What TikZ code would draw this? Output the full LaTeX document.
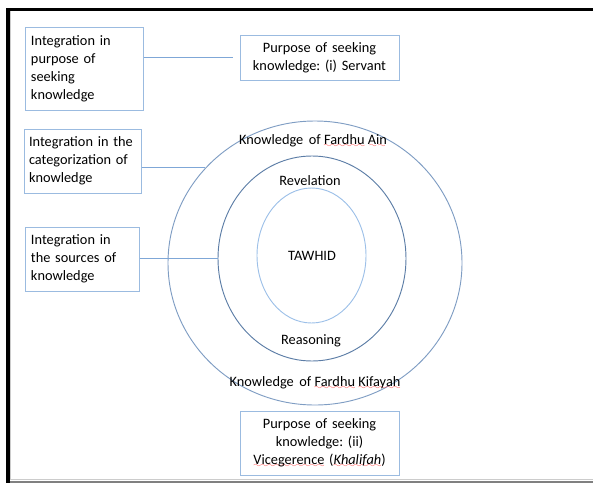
\documentclass[tikz,border=0pt]{standalone}
\usepackage{fontspec}
\setmainfont{Carlito}
\usetikzlibrary{shapes.geometric}
\frenchspacing
\newlength\pxu \setlength\pxu{0.75pt}
\definecolor{boxblue}{HTML}{9BBBE0}
\definecolor{linkblue}{HTML}{7FA7D7}
\definecolor{ringout}{HTML}{7F9DC3}
\definecolor{ringmid}{HTML}{5C7DA6}
\definecolor{ringin}{HTML}{9DC0E8}
\font\wavefont=lasy6
\newsavebox\spellbox
\newcommand{\spell}[1]{\leavevmode\sbox\spellbox{#1}\rlap{\textcolor{red!75}{\lower2.2pt\hbox to\wd\spellbox{\xleaders\hbox{\wavefont\char58}\hfil}}}\usebox\spellbox}
\tikzset{
  sidebox/.style={draw=boxblue, line width=0.75pt, inner xsep=6\pxu, inner ysep=3\pxu, align=left},
  goalbox/.style={sidebox, align=center},
  ring/.style={ellipse, draw, line width=0.7pt, inner sep=0pt},
  link/.style={draw=linkblue, line width=0.75pt}
}

\begin{document}
\begin{tikzpicture}[x=\pxu,y=-\pxu,font=\fontsize{10.75pt}{13.5pt}\selectfont]
	\useasboundingbox (0,0) rectangle (593,483);
	% frame
	\draw[line width=3\pxu] (6,9.5) -- (593,9.5);
	\draw[line width=4\pxu] (8,8) -- (8,483);
	\draw[black!20, line width=1\pxu] (10.5,11) -- (10.5,479);
	\draw[black!20, line width=1\pxu] (10,479.5) -- (593,479.5);
	\draw[black!50, line width=2.5\pxu] (10,482) -- (593,482);
	% rings
	\node[ring, draw=ringout, minimum width=294\pxu, minimum height=284\pxu] (outer) at (315,263) {};
	\node[ring, draw=ringmid, minimum width=188\pxu, minimum height=205\pxu] (mid) at (312,258.5) {};
	\node[ring, draw=ringin, minimum width=109\pxu, minimum height=135\pxu] (inner) at (311.5,255.5) {};
		\node (ain) at (313,141) {Knowledge\, of \spell{Fardhu} \spell{Ain}};
		\node (rev) at (310,181) {Revelation};
		\node (tawhid) at (312,256) {TAWHID};
		\node (reas) at (311,341) {Reasoning};
		\node (kif) at (315,383) {Knowledge\, of \spell{Fardhu} \spell{Kifayah}};
	% boxes
	\node[sidebox, text width=106\pxu, minimum height=83\pxu] (purpose) at (84,68.5) {Integration in\\purpose of\\seeking\\knowledge};
	\node[sidebox, text width=107\pxu, inner xsep=5\pxu, minimum height=64\pxu] (categ) at (82.5,161) {Integration in the\\categorization of\\knowledge};
	\node[sidebox, text width=102\pxu, minimum height=64\pxu] (sources) at (82,259) {Integration in\\the sources of\\knowledge};
	\node[goalbox, text width=147\pxu, minimum height=45\pxu] (servant) at (319.5,57.5) {Purpose of seeking\\knowledge: (i) Servant};
	\node[goalbox, text width=147\pxu, minimum height=64\pxu] (khalifah) at (319.5,443) {Purpose of seeking\\knowledge: (ii)\\\spell{Vicegerence} (\textit{\spell{Khalifah}})};
	% links
	\draw[link] (purpose.east |- servant.west) -- ([xshift=-7\pxu]servant.west);
	\draw[link] (categ.east |- outer.139) -- (outer.139);
	\draw[link] (sources.east |- mid.west) -- (mid.west);
\end{tikzpicture}
\end{document}
